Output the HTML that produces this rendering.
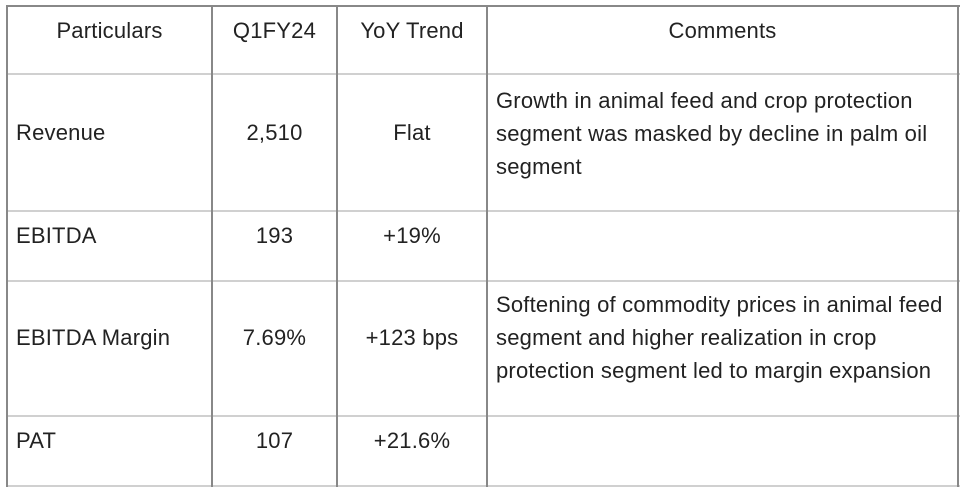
<!DOCTYPE html>
<html><head><style>
body{margin:0;width:966px;height:492px;background:#fff;position:relative;font-family:"Liberation Sans",Arial,sans-serif;font-size:22px;letter-spacing:0.2px;color:#222;overflow:hidden}
.v{position:absolute;width:2px;background:#888;top:5px;height:482px}
.h{position:absolute;height:2px;background:#d0d0d0;left:6px;width:954px}
.t{position:absolute;line-height:33px;white-space:nowrap}
.c{text-align:center}
</style></head><body>
<div class="h" style="top:5px;background:#888"></div>
<div class="h" style="top:73px"></div>
<div class="h" style="top:210px"></div>
<div class="h" style="top:280px"></div>
<div class="h" style="top:415px"></div>
<div class="h" style="top:485px"></div>
<div class="v" style="left:6px"></div>
<div class="v" style="left:211px"></div>
<div class="v" style="left:336px"></div>
<div class="v" style="left:486px"></div>
<div class="v" style="left:957px"></div>

<div class="t c" style="left:8px;width:203px;top:14px">Particulars</div>
<div class="t c" style="left:213px;width:123px;top:14px">Q1FY24</div>
<div class="t c" style="left:338px;width:148px;top:14px">YoY Trend</div>
<div class="t c" style="left:488px;width:469px;top:14px">Comments</div>

<div class="t" style="left:16px;top:116px">Revenue</div>
<div class="t c" style="left:213px;width:123px;top:116px">2,510</div>
<div class="t c" style="left:338px;width:148px;top:116px">Flat</div>
<div class="t" style="left:496px;top:84px">Growth in animal feed and crop protection<br>segment was masked by decline in palm oil<br>segment</div>

<div class="t" style="left:16px;top:219px">EBITDA</div>
<div class="t c" style="left:213px;width:123px;top:219px">193</div>
<div class="t c" style="left:338px;width:148px;top:219px">+19%</div>

<div class="t" style="left:16px;top:321px">EBITDA Margin</div>
<div class="t c" style="left:213px;width:123px;top:321px">7.69%</div>
<div class="t c" style="left:338px;width:148px;top:321px">+123 bps</div>
<div class="t" style="left:496px;top:288px">Softening of commodity prices in animal feed<br>segment and higher realization in crop<br>protection segment led to margin expansion</div>

<div class="t" style="left:16px;top:424px">PAT</div>
<div class="t c" style="left:213px;width:123px;top:424px">107</div>
<div class="t c" style="left:338px;width:148px;top:424px">+21.6%</div>
</body></html>
